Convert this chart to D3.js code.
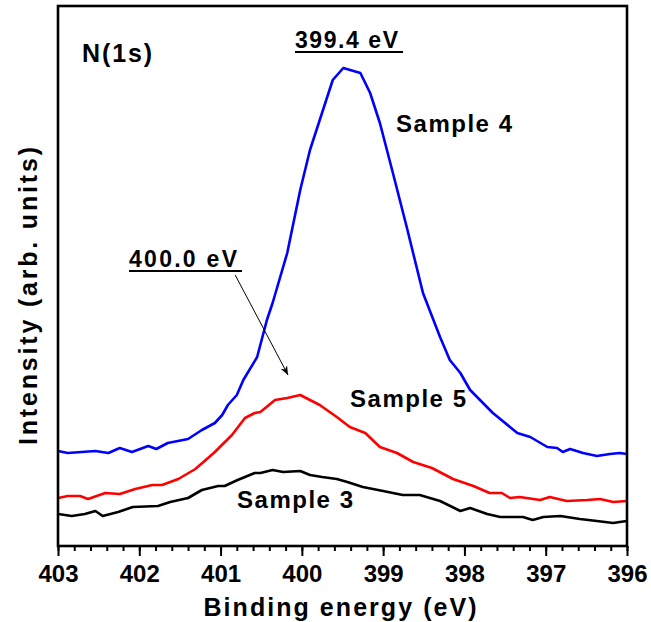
<!DOCTYPE html>
<html>
<head>
<meta charset="utf-8">
<script src="https://cdn.jsdelivr.net/npm/d3@7"></script>
<style>
  body { margin: 0; background: #fff; }
  text { font-family: Arial, "Liberation Sans", sans-serif; font-weight: bold; fill: #000; }
</style>
</head>
<body>
<svg id="chart" width="651" height="622"></svg>
<script>
// binding energy (eV) / intensity (arb. units)
var sample4E = [403.00, 402.88, 402.54, 402.38, 402.24, 402.09, 401.89, 401.79, 401.65, 401.40,
                401.23, 401.07, 400.98, 400.91, 400.80, 400.72, 400.55, 400.43, 400.36, 400.18,
                400.02, 399.90, 399.78, 399.62, 399.49, 399.28, 399.16, 399.04, 398.88, 398.71,
                398.51, 398.30, 398.18, 398.05, 397.93, 397.65, 397.35, 397.19, 396.98, 396.86,
                396.79, 396.70, 396.54, 396.37, 396.21, 396.09, 396.00];
var sample4I = [95, 93, 95, 93, 98, 94, 100, 97, 103, 107,
                116, 123, 131, 141, 151, 166, 189, 226, 243, 293,
                356, 396, 426, 466, 478, 473, 453, 423, 373, 319,
                253, 209, 186, 173, 156, 133, 113, 109, 99, 98,
                94, 97, 93, 90, 92, 93, 92];

var sample5E = [403.00, 402.88, 402.73, 402.63, 402.42, 402.24, 402.05, 401.84, 401.72, 401.52,
                401.31, 401.07, 400.86, 400.70, 400.58, 400.51, 400.33, 400.18, 400.02, 399.78,
                399.57, 399.41, 399.22, 399.04, 398.83, 398.63, 398.40, 398.14, 397.89, 397.69,
                397.54, 397.44, 397.32, 397.07, 396.95, 396.74, 396.49, 396.33, 396.17, 396.00];
var sample5I = [48, 50, 50, 47, 53, 52, 57, 61, 61, 67,
                77, 94, 111, 128, 133, 134, 146, 148, 151, 141,
                129, 119, 113, 99, 93, 84, 78, 67, 60, 53,
                53, 48, 49, 46, 49, 45, 46, 47, 44, 45];

var sample3E = [403.00, 402.83, 402.67, 402.54, 402.45, 402.26, 402.08, 401.77, 401.62, 401.40,
                401.23, 401.03, 400.95, 400.79, 400.58, 400.51, 400.36, 400.23, 400.02, 399.90,
                399.75, 399.57, 399.44, 399.25, 399.00, 398.76, 398.55, 398.30, 398.05, 397.93,
                397.72, 397.56, 397.28, 397.16, 397.03, 396.82, 396.58, 396.37, 396.17, 396.09, 396.00];
var sample3I = [32, 30, 32, 35, 30, 34, 39, 40, 44, 48,
                56, 60, 60, 66, 73, 73, 76, 74, 75, 71,
                69, 67, 64, 59, 55, 51, 51, 45, 35, 38,
                32, 29, 29, 26, 29, 30, 27, 25, 23, 24, 25];

var majorTicks = [403, 402, 401, 400, 399, 398, 397, 396];
var seriesNames = ["Sample 4", "Sample 5", "Sample 3"];
var seriesColors = ["#0000ff", "#ff0000", "#000000"];

var svg = d3.select("#chart");
var pLeft = 58, pRight = 627, pTop = 6, pBottom = 546;

var x = d3.scaleLinear().domain([403, 396]).range([pLeft, pRight]);
var y = d3.scaleLinear().domain([0, 540]).range([pBottom, pTop]);

var defs = svg.append("defs");
defs.append("clipPath").attr("id", "clip")
  .append("rect").attr("x", pLeft).attr("y", pTop)
  .attr("width", pRight - pLeft).attr("height", pBottom - pTop);

var series = [
  {name: seriesNames[0], color: seriesColors[0], pts: d3.zip(sample4E, sample4I)},
  {name: seriesNames[1], color: seriesColors[1], pts: d3.zip(sample5E, sample5I)},
  {name: seriesNames[2], color: seriesColors[2], pts: d3.zip(sample3E, sample3I)}
];

var line = d3.line()
  .x(function(d) { return x(d[0]); })
  .y(function(d) { return y(d[1]); });

svg.append("g").attr("clip-path", "url(#clip)")
  .selectAll("path")
  .data(series)
  .enter().append("path")
    .attr("d", function(d) { return line(d.pts); })
    .attr("fill", "none")
    .attr("stroke", function(d) { return d.color; })
    .attr("stroke-width", 2.6)
    .attr("stroke-linejoin", "round");

// minor ticks every 0.2 eV
var minor = d3.range(0, 36).map(function(i) { return +(403 - i * 0.2).toFixed(1); });
svg.append("g")
  .attr("transform", "translate(0," + pBottom + ")")
  .call(d3.axisBottom(x).tickValues(minor).tickSize(5).tickFormat(""))
  .call(function(g) { g.select(".domain").remove(); })
  .selectAll("line").attr("stroke", "#000").attr("stroke-width", 2);

var xAxis = svg.append("g")
  .attr("transform", "translate(0," + pBottom + ")")
  .call(d3.axisBottom(x).tickValues(majorTicks).tickSize(10).tickPadding(10).tickFormat(d3.format("d")));
xAxis.select(".domain").remove();
xAxis.selectAll("line").attr("stroke", "#000").attr("stroke-width", 2);
xAxis.selectAll("text")
  .attr("font-size", 24).attr("font-family", "Arial, 'Liberation Sans', sans-serif")
  .attr("font-weight", "bold").attr("fill", "#000")
  .attr("dy", "0.68em");

// frame
svg.append("rect")
  .attr("x", pLeft).attr("y", pTop)
  .attr("width", pRight - pLeft).attr("height", pBottom - pTop)
  .attr("fill", "none").attr("stroke", "#000").attr("stroke-width", 2.6);

// axis titles
svg.append("text")
  .attr("x", 340).attr("y", 616)
  .attr("text-anchor", "middle").attr("font-size", 25)
  .attr("textLength", 273).attr("lengthAdjust", "spacing")
  .text("Binding energy (eV)");

svg.append("text")
  .attr("transform", "translate(37,296) rotate(-90)")
  .attr("text-anchor", "middle").attr("font-size", 25)
  .attr("textLength", 298).attr("lengthAdjust", "spacing")
  .text("Intensity (arb. units)");

// annotations
svg.append("text").attr("x", 82).attr("y", 62).attr("font-size", 25)
  .attr("textLength", 70).attr("lengthAdjust", "spacing").text("N(1s)");

function underlined(tx, ty, w, label) {
  svg.append("text").attr("x", tx).attr("y", ty).attr("font-size", 23)
    .attr("textLength", w).attr("lengthAdjust", "spacing").text(label);
  svg.append("line")
    .attr("x1", tx).attr("x2", tx + w + 5)
    .attr("y1", ty + 4).attr("y2", ty + 4)
    .attr("stroke", "#000").attr("stroke-width", 2);
}
underlined(295, 48, 103, "399.4 eV");
underlined(129, 267, 108, "400.0 eV");

var labelPos = [[396, 132], [350, 407], [237, 508]];
svg.selectAll(".slabel")
  .data(series)
  .enter().append("text")
    .attr("class", "slabel")
    .attr("x", function(d, i) { return labelPos[i][0]; })
    .attr("y", function(d, i) { return labelPos[i][1]; })
    .attr("font-size", 24)
    .attr("textLength", 116).attr("lengthAdjust", "spacing")
    .text(function(d) { return d.name; });

// arrow pointing at the Sample 5 peak
var arrowFrom = [400.82, 271], arrowTo = [400.17, 171];
defs.append("marker")
  .attr("id", "arrowhead")
  .attr("viewBox", "0 0 10 10").attr("refX", 10).attr("refY", 5)
  .attr("markerWidth", 9).attr("markerHeight", 9)
  .attr("markerUnits", "userSpaceOnUse")
  .attr("orient", "auto")
  .append("path").attr("d", "M0,1 L10,5 L0,9 L3,5 Z").attr("fill", "#000");
svg.append("line")
  .attr("x1", x(arrowFrom[0])).attr("y1", y(arrowFrom[1]))
  .attr("x2", x(arrowTo[0])).attr("y2", y(arrowTo[1]))
  .attr("stroke", "#000").attr("stroke-width", 1)
  .attr("marker-end", "url(#arrowhead)");
</script>
</body>
</html>
